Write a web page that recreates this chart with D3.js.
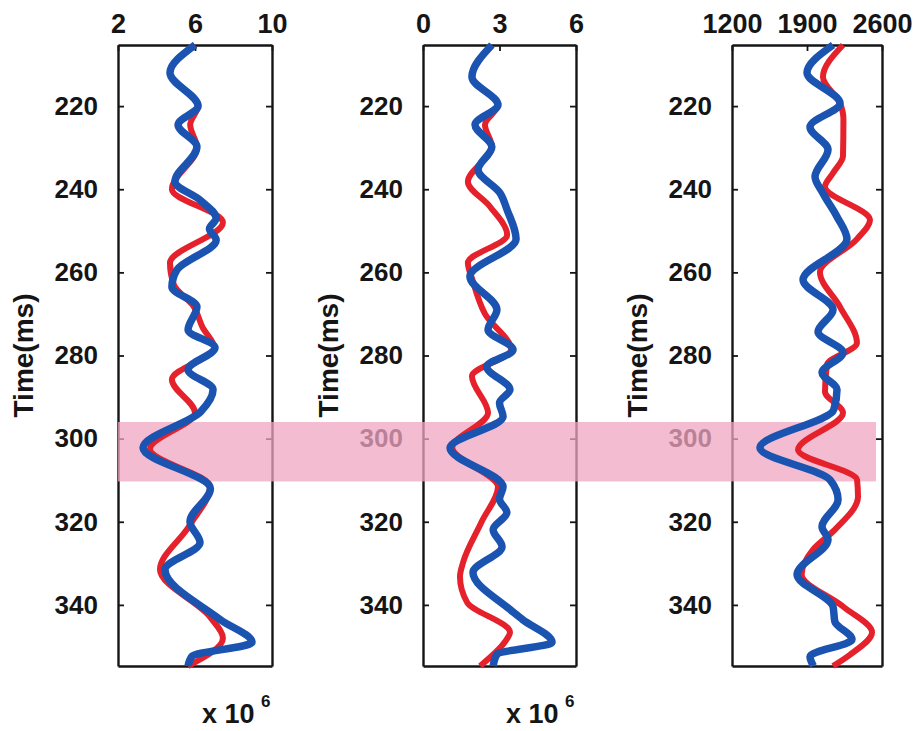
<!DOCTYPE html>
<html>
<head>
<meta charset="utf-8">
<script src="https://cdn.jsdelivr.net/npm/d3@7"></script>
<style>
  body { margin: 0; background: #fff; }
  text { font-family: "Liberation Sans", Arial, sans-serif; font-weight: bold; }
</style>
</head>
<body>
<div id="wrapper"></div>
<script>
// tick labels
const timeTicks = [220, 240, 260, 280, 300, 320, 340]
const timeDomain = [205.3, 354.7]
const topTicks1 = [2, 6, 10]
const topTicks2 = [0, 3, 6]
const topTicks3 = [1200, 1900, 2600]
const bandTime = [296, 310.3]

// [time (ms), value]
const p1Red = [[205.3,6.0],[212,4.7],[220,6.15],[224.5,5.75],[230,6.1],[240,4.8],[248,7.45],[257.7,4.7],[263,4.9],[268,5.9],[273.3,6.4],[278.1,7.0],[285.8,4.8],[293.8,6.0],[302.5,3.66],[311.6,6.78],[321,5.7],[331.5,4.18],[343,6.8],[348,7.45],[354.7,5.64]]
const p1Blue = [[205.3,6.0],[212,4.7],[220,6.16],[224.5,5.12],[229.8,6.1],[238.2,4.96],[242.6,6.26],[247,7.1],[249.5,6.75],[252.2,7.1],[259.4,5.06],[263.5,4.8],[268.3,6.1],[273.8,5.64],[278.1,7.04],[283.4,5.64],[288.2,6.94],[293.5,6.3],[302.2,3.3],[312,6.8],[320,5.74],[325,6.26],[331.5,4.44],[343.5,7.3],[349,8.96],[352.4,5.84],[354.7,5.64]]

const p2Red = [[205.3,2.7],[213,1.92],[219.7,2.94],[224.5,2.43],[229.8,2.7],[238.2,1.76],[244.2,2.63],[251,3.3],[257.7,1.76],[262,1.95],[270,2.43],[278.6,3.45],[285,1.92],[293.8,2.55],[302.2,1.15],[311.6,2.94],[320,2.3],[329.8,1.57],[333.2,1.45],[339.4,1.73],[346.6,3.41],[349,3.2],[354.7,2.24]]
const p2Blue = [[205.3,2.7],[213,1.92],[219.7,2.94],[224.5,2.04],[229.8,2.7],[235.3,2.16],[240.9,3.02],[245,3.3],[252,3.65],[261,1.84],[269,2.9],[273.8,2.55],[278.6,3.53],[282.7,2.5],[288.2,3.41],[291.4,3.0],[294.7,3.14],[302.2,1.06],[311.6,3.14],[314.5,3.0],[317.8,3.29],[321.9,2.75],[326,3.1],[332.2,1.96],[341.1,3.41],[343.5,3.9],[349,5.06],[351.9,2.9],[354.7,2.75]]

const p3Red = [[205.3,2236],[213,2049],[219.3,2208],[223,2240],[232,2236],[236.1,2143],[239.4,2068],[247.4,2488],[252,2366],[260,2021],[268.3,2208],[277,2366],[282.2,2087],[288.7,2068],[293.8,2236],[302.7,1816],[309.9,2367],[314,2376],[321.9,2161],[326.7,1956],[332.7,1850],[340.4,2236],[346.6,2507],[352,2300],[354.7,2143]]
const p3Blue = [[205.3,2143],[212,1900],[219.3,2208],[225,1928],[230.5,2096],[237,1975],[241,2050],[246.6,2180],[252,2273],[261.8,1863],[269,2143],[274.3,2003],[279.3,2236],[284.1,2040],[288.2,2180],[293,2150],[302.2,1461],[309.9,2115],[314.7,2190],[321.2,2040],[324.3,2096],[332.7,1807],[340.4,2143],[344,2160],[348.3,2320],[352.4,1928],[354.7,1960]]

const panels = [
    { left: 118, width: 154, domain: [2, 10], ticks: topTicks1, red: p1Red, blue: p1Blue, exponent: true },
    { left: 423, width: 153, domain: [0, 6], ticks: topTicks2, red: p2Red, blue: p2Blue, exponent: true },
    { left: 732, width: 150, domain: [1200, 2600], ticks: topTicks3, red: p3Red, blue: p3Blue, exponent: false },
]

const dimensions = { width: 918, height: 731, top: 45, bottom: 666 }

const svg = d3.select("#wrapper")
    .append("svg")
        .attr("width", dimensions.width)
        .attr("height", dimensions.height)

const yScale = d3.scaleLinear()
    .domain(timeDomain)
    .range([dimensions.top, dimensions.bottom])

const axesLayer = svg.append("g")
const bandLayer = svg.append("g")
const lineLayer = svg.append("g")

panels.forEach(p => {
    p.xScale = d3.scaleLinear()
        .domain(p.domain)
        .range([p.left, p.left + p.width])

    const g = axesLayer.append("g")

    // left axis with labels, ticks pointing inward
    const yAxisLeft = g.append("g")
        .attr("transform", `translate(${p.left},0)`)
        .call(d3.axisLeft(yScale).tickValues(timeTicks).tickFormat(d3.format("d"))
            .tickSizeInner(-6).tickSizeOuter(0).tickPadding(20))
    yAxisLeft.selectAll("text").style("font-size", "26px").attr("fill", "#151515")

    g.append("g")
        .attr("transform", `translate(${p.left + p.width},0)`)
        .call(d3.axisRight(yScale).tickValues(timeTicks).tickSizeInner(-6).tickSizeOuter(0).tickFormat(""))

    const xAxisTop = g.append("g")
        .attr("transform", `translate(0,${dimensions.top})`)
        .call(d3.axisTop(p.xScale).tickValues(p.ticks).tickFormat(d3.format("d"))
            .tickSizeInner(-6).tickSizeOuter(0).tickPadding(12))
    xAxisTop.selectAll("text").style("font-size", "27px").attr("fill", "#151515")

    g.append("g")
        .attr("transform", `translate(0,${dimensions.bottom})`)
        .call(d3.axisBottom(p.xScale).tickValues([]).tickSizeOuter(0))

    g.selectAll(".domain").attr("stroke", "#151515").attr("stroke-width", 2.4)
    g.selectAll(".tick line").attr("stroke", "#151515").attr("stroke-width", 1.8)

    g.append("text")
        .attr("transform", `translate(${p.left - 85},${(dimensions.top + dimensions.bottom) / 2}) rotate(-90)`)
        .attr("text-anchor", "middle")
        .style("font-size", "28px")
        .attr("fill", "#151515")
        .text("Time(ms)")

    if (p.exponent) {
        const right = p.left + p.width
        g.append("text")
            .attr("x", right - 70)
            .attr("y", 723)
            .style("font-size", "27px")
            .attr("fill", "#151515")
            .text("x 10")
        g.append("text")
            .attr("x", right - 11)
            .attr("y", 707)
            .style("font-size", "17px")
            .attr("fill", "#151515")
            .text("6")
    }
})

// highlighted time window across all three panels
bandLayer.append("rect")
    .attr("x", panels[0].left)
    .attr("width", panels[2].left + panels[2].width - 6 - panels[0].left)
    .attr("y", yScale(bandTime[0]))
    .attr("height", yScale(bandTime[1]) - yScale(bandTime[0]))
    .attr("fill", "#f0a6c1")
    .attr("opacity", 0.75)

panels.forEach(p => {
    const lineGenerator = d3.line()
        .x(d => p.xScale(d[1]))
        .y(d => yScale(d[0]))
        .curve(d3.curveMonotoneY)

    lineLayer.append("path")
        .attr("d", lineGenerator(p.red))
        .attr("fill", "none")
        .attr("stroke", "#e5222b")
        .attr("stroke-width", 6)
        .attr("stroke-linejoin", "round")

    lineLayer.append("path")
        .attr("d", lineGenerator(p.blue))
        .attr("fill", "none")
        .attr("stroke", "#1b53b0")
        .attr("stroke-width", 7.5)
        .attr("stroke-linejoin", "round")
})
</script>
</body>
</html>
